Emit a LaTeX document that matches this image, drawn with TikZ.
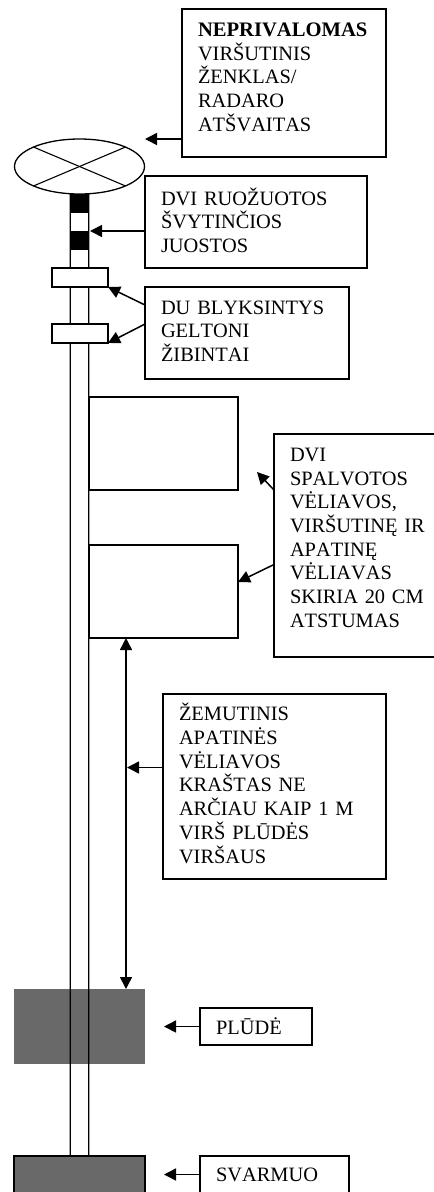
\documentclass[tikz,border=0pt]{standalone}
\usepackage{fontspec}
\setmainfont[Kerning=Off]{Liberation Serif}
\usetikzlibrary{arrows.meta, shapes.geometric}
\tikzset{
  textbox/.style 2 args={draw, line width=1.3bp, anchor=north west, outer sep=0pt, inner xsep=16bp, inner ysep=0pt,
    align=left, text width=#1, minimum height=#2, font=\fontsize{20.4bp}{23.7bp}\selectfont},
  pointer/.style={line width=1.5bp},
  poleline/.style={line width=1.1bp},
  flagbox/.style={draw, fill=white, line width=1.3bp, anchor=north west, outer sep=0pt, inner sep=0pt, minimum width=149bp, minimum height=93bp},
  lightbox/.style={draw, fill=white, line width=1.3bp, anchor=north west, outer sep=0pt, inner sep=0pt, minimum width=56bp, minimum height=19bp},
  bandbox/.style={fill=black, anchor=north west, inner sep=0pt, minimum width=19bp, minimum height=19bp},
  floatbox/.style={fill=black!59, anchor=north west, outer sep=0pt, inner sep=0pt, minimum width=131bp}
}
\begin{document}
\begin{tikzpicture}[x=1bp, y=-1bp, >={Triangle[length=12bp,width=12bp]}]
\useasboundingbox (0,0) rectangle (434,1192);
\clip (0,0) rectangle (434,1192);
\node[floatbox, minimum height=75bp] (float) at (14,989) {};
\node[floatbox, draw=black, line width=1.3bp, minimum height=50bp] (weight) at (14,1156) {};
\node[draw, ellipse, line width=1.3bp, outer sep=0pt, inner sep=0pt, minimum width=130bp, minimum height=55bp] (mark) at (79.5,166.5) {};
\draw[line width=1.1bp] (mark.north west) -- (mark.south east);
\draw[line width=1.1bp] (mark.north east) -- (mark.south west);
\foreach \dx in {-9.25,9.25} {
\draw[poleline] ([xshift=\dx bp]mark.south) -- ([xshift=\dx bp]weight.north);
}
\foreach \name/\py in {bandone/194, bandtwo/231} {
\node[bandbox] (\name) at (70.25,\py) {};
}
\foreach \name/\py in {lightone/268, lighttwo/324} {
\node[lightbox] (\name) at (52,\py) {};
}
\foreach \name/\py in {flagone/397, flagtwo/545} {
\node[flagbox] (\name) at (89,\py) {};
}

\node[textbox={172bp}{148bp}] (topbox) at (182,9) {{\fontsize{20.6bp}{23.7bp}\selectfont\textbf{NEPRIVALOMAS}}\\VIRŠUTINIS\\ŽENKLAS/\\RADARO\\ATŠVAITAS\\[-12bp]~};
\node[textbox={190bp}{92bp}] (bandlabel) at (145,176) {DVI RUOŽUOTOS\\ŠVYTINČIOS\\JUOSTOS\\[-20bp]~};
\node[textbox={172bp}{92bp}] (lightlabel) at (145,287) {DU BLYKSINTYS\\GELTONI\\ŽIBINTAI\\[-20bp]~};
\node[textbox={148bp}{223bp}] (flaglabel) at (274,434) {DVI\\SPALVOTOS\\VĖLIAVOS,\\VIRŠUTINĘ IR\\APATINĘ\\VĖLIAVAS\\SKIRIA 20 CM\\ATSTUMAS\\[-8bp]~};
\node[textbox={191bp}{185bp}] (gaplabel) at (163,694) {ŽEMUTINIS\\APATINĖS\\VĖLIAVOS\\KRAŠTAS NE\\ARČIAU KAIP 1 M\\VIRŠ PLŪDĖS\\VIRŠAUS\\[-17bp]~};
\node[textbox={80bp}{37bp}] (floatlabel) at (200,1008) {PLŪDĖ};
\node[textbox={117bp}{37bp}] (weightlabel) at (200,1156) {SVARMUO};

\coordinate (toptip) at (145,139);
\coordinate (bandtip) at (90,231);
\coordinate (flagtip) at (257,472);
\coordinate (gaptip) at (127,767.5);
\coordinate (gapline) at (126,800);
\draw[pointer, ->] (topbox.west |- toptip) -- (toptip);
\draw[pointer, ->] (bandlabel.west |- bandtip) -- (bandtip);
\draw[pointer, ->] ([yshift=-18bp]lightlabel.north west) -- (lightone.south east);
\draw[pointer, ->] ([yshift=-37bp]lightlabel.north west) -- (lighttwo.south east);
\draw[pointer, ->] ([yshift=-56bp]flaglabel.north west) -- (flagtip);
\draw[pointer, ->] ([yshift=-130.5bp]flaglabel.north west) -- ([yshift=-37bp]flagtwo.north east);
\draw[pointer, <->] (gapline |- flagtwo.south) -- (gapline |- float.north);
\draw[pointer, ->] (gaplabel.west |- gaptip) -- (gaptip);
\draw[pointer, ->] (floatlabel.west) -- +(-36,0);
\draw[pointer, ->] (weightlabel.west) -- +(-36,0);
\end{tikzpicture}
\end{document}
